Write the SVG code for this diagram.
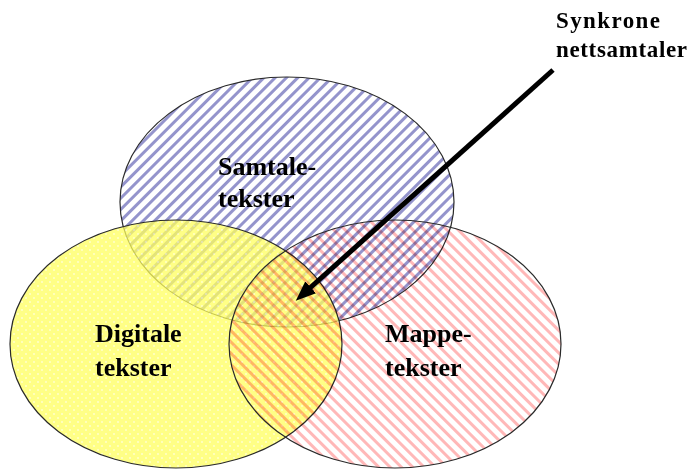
<svg xmlns="http://www.w3.org/2000/svg" width="688" height="469" viewBox="0 0 688 469">
  <style>
    .outline { fill: none; stroke: #2a2a2a; stroke-width: 1.2; }
    .label { font-family: "Liberation Serif", "Times New Roman", serif; font-weight: bold; font-size: 26px; fill: #000; }
    .note { font-family: "Liberation Serif", "Times New Roman", serif; font-weight: bold; font-size: 23px; fill: #000; }
    .multiply { mix-blend-mode: multiply; }
  </style>
  <defs>
    <!-- blue "/" hatching -->
    <pattern id="hatch-blue" width="8" height="8" patternUnits="userSpaceOnUse" patternTransform="rotate(45)">
      <rect width="3" height="8" fill="#9494cc"/>
    </pattern>
    <!-- pink "\" hatching -->
    <pattern id="hatch-pink" width="8" height="8" patternUnits="userSpaceOnUse" patternTransform="rotate(-45)">
      <rect width="3" height="8" fill="#ffb8b8"/>
    </pattern>
    <!-- yellow with fine white dots -->
    <pattern id="dots-yellow" width="8" height="8" patternUnits="userSpaceOnUse">
      <rect width="8" height="8" fill="#ffff5c"/>
      <circle cx="2" cy="2" r="0.8" fill="#ffffff"/>
      <circle cx="6" cy="6" r="0.8" fill="#ffffff"/>
    </pattern>
    <marker id="arrowhead" markerUnits="userSpaceOnUse" markerWidth="22" markerHeight="18" refX="13" refY="8" orient="auto">
      <path d="M0,0 L20,8 L0,16 z" fill="#000"/>
    </marker>
  </defs>

  <rect width="688" height="469" fill="#ffffff"/>

  <g id="samtale">
    <ellipse cx="287" cy="202" rx="167" ry="125" fill="url(#hatch-blue)"/>
    <ellipse class="outline" cx="287" cy="202" rx="167" ry="125"/>
    <text class="label" x="218" y="175">Samtale-</text>
    <text class="label" x="218" y="207">tekster</text>
  </g>

  <g id="digitale">
    <ellipse cx="176" cy="344" rx="166" ry="124" fill="url(#dots-yellow)" fill-opacity="0.74"/>
    <ellipse class="outline" cx="176" cy="344" rx="166" ry="124"/>
    <text class="label" x="95" y="342">Digitale</text>
    <text class="label" x="95" y="376">tekster</text>
  </g>

  <g id="mappe">
    <ellipse class="multiply" cx="395" cy="344" rx="166" ry="124" fill="url(#hatch-pink)"/>
    <ellipse class="outline" cx="395" cy="344" rx="166" ry="124"/>
    <text class="label" x="385" y="342">Mappe-</text>
    <text class="label" x="385" y="376">tekster</text>
  </g>

  <g id="synkrone">
    <text class="note" x="556" y="28" textLength="104" lengthAdjust="spacing">Synkrone</text>
    <text class="note" x="556" y="57" textLength="131" lengthAdjust="spacing">nettsamtaler</text>
  </g>

  <g id="connectors">
    <line x1="553" y1="70" x2="301" y2="296" stroke="#000" stroke-width="5" marker-end="url(#arrowhead)"/>
  </g>
</svg>
